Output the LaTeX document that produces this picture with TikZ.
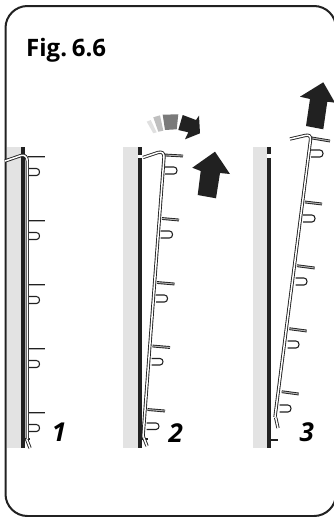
\documentclass[tikz,border=0pt]{standalone}
\usepackage{fontspec}
\setmainfont{Open Sans}
\definecolor{wallgrey}{gray}{0.89}
\definecolor{ink}{gray}{0.13}
\tikzset{
  frameline/.style={draw=ink,line width=2pt,rounded corners=22pt},
  wallface/.style={fill=wallgrey,draw=none},
  wallline/.style={draw=ink,line width=3.8pt},
  wallthin/.style={draw=ink,line width=2.4pt},
  rodline/.style={draw=ink,line width=0.9pt,double=white,double distance=1.5pt},
  toothline/.style={draw=ink,line width=0.9pt,double=black!30,double distance=1pt},
  loopline/.style={draw=ink,line width=1.1pt,fill=white},
  solidarrow/.style={fill=ink,draw=none},
  figlabel/.style={font=\fontsize{24}{26}\selectfont\bfseries,anchor=base west,inner sep=0pt},
  numlabel/.style={font=\fontsize{26}{28}\selectfont\bfseries\itshape,inner sep=0pt}
}
\newcommand{\toothat}[4]{\draw[toothline] (#1,#2) -- (#3,#4);}
\newcommand{\loopat}[4]{\draw[loopline] (#1,#2) -- (#4-4,#2) .. controls (#4,#2) and (#4,#3) .. (#4-4,#3) -- (#1,#3);}
\begin{document}
\begin{tikzpicture}[x=1pt,y=-1pt]
\useasboundingbox (0,0) rectangle (334,517);
\clip (0,0) rectangle (334,517);
\draw[frameline] (5.5,516) rectangle (336,6);
\node[figlabel] (figtitle) at (26,56) {\xspaceskip=0.2em\spaceskip=0.2em Fig. 6.6};

% ---- panel 1
\fill[wallface] (6.5,147) rectangle (21,448);
\draw[wallline] (22.8,147) -- (22.8,448);
\draw[wallthin] (23,439) -- (30,439);
\foreach \y in {157,221,285,349,413} {\toothat{28}{\y}{45}{\y}}
\foreach \y in {172,236,300,364,428} {\loopat{28}{\y-3.5}{\y+3.5}{40.5}}
\draw[rodline] (26.5,439) -- (30,448);
\draw[rodline] (5,161) -- (21,155.5) .. controls (25,154.5) and (27,157) .. (27.3,161) -- (27.3,439);

% ---- panel 2
\fill[wallface] (123,147) rectangle (138.5,448);
\draw[wallline] (140,147) -- (140,448);
\fill[white] (138,154.5) rectangle (142.5,157.5);
\draw[wallthin] (141,439) -- (148,439);
\toothat{165}{155}{183}{156}
\toothat{162}{218.5}{179}{220}
\toothat{157}{282.5}{174.5}{284}
\toothat{152.5}{346}{170}{347.5}
\toothat{147.5}{409.5}{165}{411}
\loopat{165}{167}{174}{178}
\loopat{160.5}{231}{238}{173.5}
\loopat{156}{295}{302}{168.5}
\loopat{151.5}{358.5}{365}{164}
\loopat{146.5}{423}{429.5}{160}
\draw[rodline] (143.5,437) -- (147,446);
\draw[rodline] (143,157.5) -- (158,152.5) .. controls (162,151.5) and (164,153) .. (164,157) -- (143,437);
\draw[solidarrow] (215,151.7) -- (230,174) -- (220,173) -- (216,198.3) -- (197.7,195) -- (200.7,171) -- (192.3,167.7) -- cycle;
\fill[black!12] (146.7,121.7) -- (150.7,120) -- (156.7,132.3) -- (153.3,133.3) -- cycle;
\fill[black!25] (153.3,117.3) -- (160,115.3) -- (163.3,130.7) -- (158.3,131.7) -- cycle;
\fill[black!52] (162.7,114.7) -- (178.3,114.3) -- (176.7,129.3) -- (165,130) -- cycle;
\fill[ink] (182.7,115) -- (196,120) -- (199,115.7) -- (200,133.3) -- (185,139.3) -- (188.3,132.3) -- (178.3,130) -- cycle;
\node[numlabel] (num2) at (175.7,432.7) {2};

% ---- panel 3
\fill[wallface] (253,147) rectangle (267.5,448);
\draw[wallline] (269.3,147) -- (269.3,448);
\fill[white] (267,154) rectangle (272,157.5);
\draw[wallthin] (270,440) -- (278,440);
\toothat{312}{138}{330}{141}
\toothat{305}{202}{322}{204}
\toothat{297}{265.7}{314.7}{268}
\toothat{289.3}{328.7}{306.7}{331}
\toothat{281.7}{391.7}{298.7}{394}
\loopat{311}{150}{157}{324}
\loopat{303}{215}{222}{316}
\loopat{295.5}{278}{285}{308}
\loopat{287.5}{341}{348}{300}
\loopat{279.5}{405}{412}{292}
\draw[rodline] (275.7,417.7) -- (278,428);
\draw[rodline] (290,139) -- (305,135.5) .. controls (309,134.5) and (311,136) .. (310.5,140) -- (275,417);
\draw[solidarrow] (323.3,82.3) -- (335,102.7) -- (327.3,101.7) -- (323.3,129.3) -- (306,126) -- (310,99) -- (300,96.7) -- cycle;
\node[numlabel] (num3) at (306.7,432.7) {3};
\node[numlabel] (num1) at (59,432.7) {1};
\end{tikzpicture}
\end{document}
